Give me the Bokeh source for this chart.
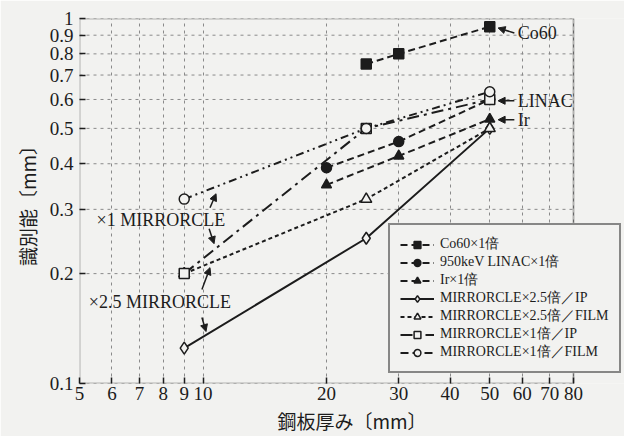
from bokeh.plotting import figure
from bokeh.models import (FixedTicker, CustomJSTickFormatter, Legend, LegendItem,
                          Arrow, NormalHead, Label, BoxAnnotation)
from bokeh.embed import file_html
from bokeh.resources import INLINE

# ---- data ----
x_ticks = [5, 6, 7, 8, 9, 10, 20, 30, 40, 50, 60, 70, 80]
y_ticks = [0.1, 0.2, 0.3, 0.4, 0.5, 0.6, 0.7, 0.8, 0.9, 1]

co60_x = [25, 30, 50]
co60_y = [0.75, 0.80, 0.95]
linac_x = [20, 30, 50]
linac_y = [0.39, 0.46, 0.60]
ir_x = [20, 30, 50]
ir_y = [0.35, 0.42, 0.53]
m25ip_x = [9, 25, 50]
m25ip_y = [0.125, 0.25, 0.50]
m25film_x = [9, 25, 50]
m25film_y = [0.20, 0.32, 0.50]
m1ip_x = [9, 25, 50]
m1ip_y = [0.20, 0.50, 0.60]
m1film_x = [9, 25, 50]
m1film_y = [0.32, 0.50, 0.63]

labels = ["Co60×1倍", "950keV LINAC×1倍", "Ir×1倍", "MIRRORCLE×2.5倍／IP",
          "MIRRORCLE×2.5倍／FILM", "MIRRORCLE×1倍／IP", "MIRRORCLE×1倍／FILM"]

X_MIN, X_MAX = 5, 80
Y_MIN, Y_MAX = 0.1, 1

BG = "#f2f2f0"
INK = "#1c1c1c"
SERIF = "Liberation Serif"
JP = "'Noto Sans CJK JP'"

# the frame is widened to the right so that the legend can overhang the plot box
BOX_W = 494
FRAME_W = 545
x_end = X_MIN * (X_MAX / X_MIN) ** (FRAME_W / BOX_W)

p = figure(x_axis_type="log", y_axis_type="log", x_range=(X_MIN, x_end),
           y_range=(Y_MIN, Y_MAX),
           frame_width=FRAME_W, frame_height=365, min_border_left=79, min_border_right=0,
           min_border_top=18, min_border_bottom=50, output_backend="svg",
           toolbar_location=None, background_fill_color=BG, border_fill_color=BG)

p.outline_line_color = None

for ax, ticks in ((p.xaxis, x_ticks), (p.yaxis, y_ticks)):
    ax.ticker = FixedTicker(ticks=ticks, minor_ticks=[])
    ax.formatter = CustomJSTickFormatter(code="return String(tick);")
    ax.major_label_text_font = SERIF
    ax.major_label_text_font_size = "19px"
    ax.major_label_text_color = INK
    ax.axis_line_color = None
    ax.major_tick_in = 6
    ax.major_tick_out = 0
    ax.major_tick_line_color = INK
    ax.major_tick_line_width = 1.5
    ax.minor_tick_line_color = None
    ax.axis_label_text_font = JP
    ax.axis_label_text_font_size = "19px"
    ax.axis_label_text_font_style = "normal"
    ax.axis_label_text_color = INK

p.xaxis.axis_label = "鋼板厚み〔mm〕"
p.yaxis.axis_label = "識別能〔mm〕"
p.xaxis.major_label_standoff = 3
p.yaxis.major_label_standoff = 6
p.xaxis.axis_label_standoff = 4
p.yaxis.axis_label_standoff = 6

GRID = "#8a8a8a"
p.xgrid.ticker = FixedTicker(ticks=x_ticks)
p.xgrid.grid_line_color = GRID
p.xgrid.grid_line_dash = "3 4"
p.ygrid.grid_line_color = None
# horizontal grid limited to the plot box
p.segment(x0=[X_MIN] * len(y_ticks), x1=[X_MAX] * len(y_ticks), y0=y_ticks, y1=y_ticks,
          line_color=GRID, line_dash="3 4", line_width=1)

p.add_layout(BoxAnnotation(left=X_MIN, right=X_MAX, bottom=Y_MIN, top=Y_MAX,
                           fill_alpha=0, line_color=INK, line_width=2, level="underlay"))

items = []
lw = 2

def series(xs, ys, dash, marker, filled, size, label):
    fc = INK if filled else BG
    l1 = p.line(xs, ys, line_color=INK, line_width=lw, line_dash=dash)
    l2 = p.scatter(xs, ys, marker=marker, size=size, line_color=INK, line_width=1.5,
                   fill_color=fc)
    items.append(LegendItem(label=label, renderers=[l1, l2]))

series(co60_x, co60_y, "7 4", "square", True, 10, labels[0])
series(linac_x, linac_y, "7 4", "circle", True, 10, labels[1])
series(ir_x, ir_y, "7 4", "triangle", True, 10, labels[2])
series(m25ip_x, m25ip_y, "solid", "diamond", False, 12, labels[3])
series(m25film_x, m25film_y, "4 3", "triangle", False, 11, labels[4])
series(m1ip_x, m1ip_y, "12 5 3 5", "square", False, 10, labels[5])
series(m1film_x, m1film_y, "8 4 2 4 2 4", "circle", False, 10, labels[6])

legend = Legend(items=items, location=(309, 10), label_text_font=SERIF,
                label_text_font_size="14px", label_text_color=INK,
                glyph_width=34, glyph_height=17, label_height=17, spacing=0,
                padding=10, margin=0, label_standoff=6,
                border_line_color=INK, border_line_width=2,
                background_fill_color=BG, background_fill_alpha=1)
p.add_layout(legend)

# ---- annotations ----
def txt(x, y, t):
    p.add_layout(Label(x=x, y=y, text=t, text_font=SERIF, text_font_size="18px",
                       text_color=INK, text_baseline="middle", text_align="left"))

def arr(x0, y0, x1, y1):
    p.add_layout(Arrow(x_start=x0, y_start=y0, x_end=x1, y_end=y1, line_color=INK,
                       line_width=1.5,
                       end=NormalHead(size=7, fill_color=INK, line_color=INK)))

txt(58.5, 0.913, "Co60")
txt(58.5, 0.595, "LINAC")
txt(58.5, 0.528, "Ir")
arr(57.4, 0.913, 52.4, 0.942)
arr(57.4, 0.595, 52.4, 0.595)
arr(57.4, 0.528, 52.4, 0.528)

txt(5.5, 0.281, "×1  MIRRORCLE")
txt(5.27, 0.1667, "×2.5  MIRRORCLE")
arr(10.4, 0.303, 10.76, 0.331)
arr(10.35, 0.2656, 10.64, 0.2416)
arr(9.94, 0.181, 10.4, 0.2077)
arr(9.94, 0.1516, 10.17, 0.1388)

open("out.html", "w").write(file_html(p, INLINE))
